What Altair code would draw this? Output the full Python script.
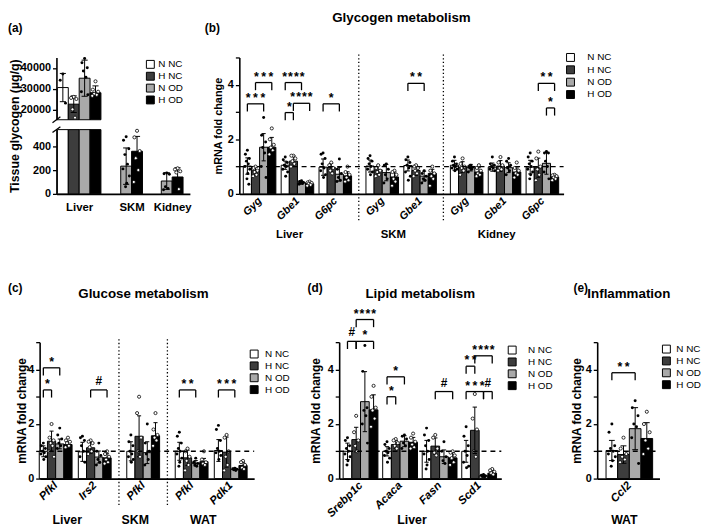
import altair as alt
import pandas as pd

FONT = "Liberation Sans"
GROUPS = ["N NC", "H NC", "N OD", "H OD"]
FILLS = ["#ffffff", "#3d3d3d", "#a9a9a9", "#000000"]
HOLLOW = {"N NC": False, "H NC": True, "N OD": False, "H OD": True}

# ---------------- (a) tissue glycogen ----------------
a_tissues = ["Liver", "SKM", "Kidney"]
a_bar_groups = [["N NC", "H NC", "N OD", "H OD"], ["N OD", "H OD"], ["N OD", "H OD"]]
a_means = [[30500, 22500, 35000, 28000], [233, 358], [108, 142]]
a_sds = [[6800, 4000, 8700, 3300], [153, 125], [70, 77]]
a_points = [
    [[37000, 34000, 23000], [26000, 25500, 25000, 20000, 16000],
     [44500, 42500, 40000, 38500, 35500, 28500, 27000], [33500, 29500, 28500, 27500, 27000, 26500]],
    [[480, 450, 380, 330, 250, 210, 150, 90, 60], [530, 475, 360, 300, 200, 100]],
    [[175, 170, 165, 60, 45, 35], [215, 205, 190, 180, 40]],
]

# ---------------- (b) glycogen metabolism ----------------
b_genes = ["Gyg", "Gbe1", "G6pc", "Gyg", "Gbe1", "Gyg", "Gbe1", "G6pc"]
b_tissues = ["Liver", "Liver", "Liver", "SKM", "SKM", "Kidney", "Kidney", "Kidney"]
b_means = [[1.02, 0.85, 1.71, 1.71], [1.05, 1.20, 0.41, 0.37], [0.98, 0.97, 0.72, 0.66],
           [1.02, 0.88, 0.78, 0.62], [1.04, 0.86, 0.65, 0.75],
           [1.05, 0.98, 0.96, 0.80], [0.98, 1.02, 0.96, 0.80], [0.98, 0.96, 1.12, 0.62]]
b_sds = [[0.30, 0.12, 0.50, 0.36], [0.15, 0.20, 0.05, 0.05], [0.30, 0.15, 0.25, 0.15],
         [0.22, 0.15, 0.30, 0.18], [0.20, 0.18, 0.18, 0.15],
         [0.18, 0.20, 0.12, 0.18], [0.15, 0.20, 0.18, 0.15], [0.25, 0.35, 0.40, 0.06]]
b_points = [
    [[1.6, 1.45, 1.3, 1.2, 1.1, 1.0, 0.9, 0.75, 0.55, 0.35], [1.0, 0.95, 0.85, 0.8, 0.7, 0.65],
     [2.8, 2.15, 1.9, 1.7, 1.5, 1.0, 0.6], [2.4, 2.0, 1.8, 1.7, 1.6, 1.45]],
    [[1.35, 1.25, 1.15, 1.05, 1.0, 0.9, 0.8, 0.65], [1.4, 1.4, 1.3, 1.2, 1.1, 1.0],
     [0.48, 0.45, 0.42, 0.4, 0.38, 0.35], [0.45, 0.42, 0.4, 0.37, 0.33, 0.3]],
    [[1.5, 1.45, 1.3, 1.1, 0.95, 0.85, 0.7, 0.6], [1.15, 1.05, 0.95, 0.85, 0.75],
     [1.28, 0.9, 0.75, 0.6, 0.5, 0.45], [1.0, 0.8, 0.7, 0.6, 0.5, 0.45]],
    [[1.4, 1.3, 1.2, 1.1, 1.0, 0.9, 0.8, 0.7], [1.05, 0.95, 0.85, 0.8, 0.7, 0.65],
     [1.1, 1.05, 0.9, 0.7, 0.55, 0.4], [0.85, 0.8, 0.7, 0.55, 0.45, 0.3]],
    [[1.35, 1.25, 1.15, 1.05, 0.95, 0.8, 0.65, 0.5], [1.05, 1.0, 0.95, 0.85, 0.75, 0.65],
     [0.85, 0.75, 0.65, 0.55, 0.5, 0.4], [1.0, 0.85, 0.75, 0.65, 0.55, 0.3]],
    [[1.35, 1.2, 1.1, 1.05, 1.0, 0.95, 0.9, 0.85], [1.3, 1.1, 1.0, 0.95, 0.85, 0.7],
     [1.05, 1.0, 0.98, 0.95, 0.9, 0.8], [1.05, 0.95, 0.85, 0.75, 0.7, 0.65]],
    [[1.35, 1.1, 1.05, 1.0, 0.95, 0.9, 0.85], [1.35, 1.15, 1.05, 0.95, 0.9, 0.85],
     [1.3, 1.2, 1.05, 0.95, 0.85, 0.7], [1.15, 0.95, 0.85, 0.75, 0.7, 0.6]],
    [[1.5, 1.35, 1.2, 1.1, 1.0, 0.9, 0.8, 0.7, 0.55], [1.55, 1.3, 1.0, 0.9, 0.7, 0.5],
     [1.55, 1.5, 1.5, 1.2, 1.0, 0.8, 0.55], [0.7, 0.68, 0.65, 0.6, 0.55, 0.5]],
]
# (gene index, group a, group b, bracket level, label)
b_brackets = [(0, 0, 2, 3.3, "***"), (0, 1, 3, 4.08, "***"), (1, 0, 2, 4.08, "****"),
              (1, 1, 3, 3.32, "****"), (1, 0, 1, 2.98, "*"), (2, 0, 2, 3.3, "*"),
              (4, 0, 2, 4.05, "**"), (7, 1, 3, 4.05, "**"), (7, 2, 3, 3.15, "*")]

# ---------------- (c) glucose metabolism ----------------
c_genes = ["Pfkl", "Irs2", "Pfkl", "Pfkl", "Pdk1"]
c_tissues = ["Liver", "Liver", "SKM", "WAT", "WAT"]
c_means = [[1.0, 1.37, 1.27, 1.25], [0.98, 1.13, 0.79, 0.76], [1.0, 1.55, 0.95, 1.57],
           [1.0, 0.76, 0.56, 0.62], [1.03, 0.97, 0.34, 0.48]]
c_sds = [[0.2, 0.37, 0.18, 0.12], [0.35, 0.2, 0.22, 0.15], [0.35, 0.75, 0.4, 0.48],
         [0.33, 0.28, 0.1, 0.12], [0.4, 0.55, 0.04, 0.12]]
c_points = [
    [[1.3, 1.2, 1.1, 1.0, 0.95, 0.9, 0.8, 0.7], [2.0, 1.5, 1.4, 1.3, 1.2, 1.0, 0.8],
     [1.85, 1.6, 1.45, 1.3, 1.2, 1.1], [1.5, 1.4, 1.35, 1.3, 1.2, 1.15]],
    [[1.55, 1.5, 1.4, 1.2, 1.0, 0.8, 0.6], [1.4, 1.35, 1.3, 1.15, 1.0, 0.9],
     [1.3, 1.0, 0.85, 0.7, 0.6, 0.5], [1.0, 0.9, 0.8, 0.7, 0.6, 0.55]],
    [[1.6, 1.35, 1.2, 1.0, 0.9, 0.8, 0.7, 0.6], [3.0, 2.4, 1.5, 1.0, 0.8],
     [2.0, 1.3, 1.0, 0.9, 0.7, 0.5], [2.4, 1.8, 1.6, 1.5, 1.4, 1.2]],
    [[1.7, 1.55, 1.3, 1.1, 1.0, 0.9, 0.75, 0.6, 0.45], [1.1, 1.0, 0.8, 0.65, 0.5, 0.3],
     [0.75, 0.6, 0.55, 0.5, 0.45], [1.0, 0.7, 0.6, 0.55, 0.5]],
    [[1.95, 1.8, 1.4, 1.1, 1.0, 0.95, 0.85, 0.7], [1.6, 1.5, 1.0, 0.8, 0.5, 0.3],
     [0.38, 0.36, 0.34, 0.32, 0.3], [0.65, 0.6, 0.5, 0.4, 0.35]],
]
c_brackets = [(0, 0, 1, 3.25, "*"), (0, 0, 2, 4.06, "*"), (1, 1, 3, 3.25, "#"),
              (3, 0, 2, 3.25, "**"), (4, 0, 2, 3.25, "***")]

# ---------------- (d) lipid metabolism ----------------
d_genes = ["Srebp1c", "Acaca", "Fasn", "Scd1"]
d_tissues = ["Liver", "Liver", "Liver", "Liver"]
d_means = [[1.0, 1.43, 2.82, 2.52], [1.0, 1.25, 1.37, 1.33], [1.0, 1.19, 0.8, 0.76], [1.0, 1.77, 0.1, 0.2]]
d_sds = [[0.3, 0.45, 1.1, 0.55], [0.17, 0.15, 0.2, 0.18], [0.4, 0.3, 0.25, 0.2], [0.4, 0.85, 0.04, 0.1]]
d_points = [
    [[1.5, 1.4, 1.2, 1.1, 1.0, 0.9, 0.8, 0.65, 0.5], [2.3, 1.7, 1.4, 1.2, 1.0],
     [4.88, 3.93, 2.6, 2.5, 2.3, 2.0, 1.3], [3.4, 3.0, 2.6, 2.5, 2.2, 1.9]],
    [[1.35, 1.25, 1.1, 1.0, 0.95, 0.85, 0.75, 0.6], [1.45, 1.4, 1.3, 1.2, 1.1],
     [1.6, 1.55, 1.45, 1.3, 1.2, 1.1], [1.65, 1.5, 1.35, 1.25, 1.15, 1.1]],
    [[1.85, 1.6, 1.4, 1.2, 1.0, 0.9, 0.7, 0.5, 0.35], [1.6, 1.5, 1.1, 0.95, 0.85],
     [1.35, 1.0, 0.8, 0.65, 0.55], [1.0, 0.95, 0.85, 0.75, 0.6, 0.5]],
    [[1.9, 1.55, 1.2, 1.0, 0.85, 0.6, 0.45, 0.4], [3.1, 2.2, 1.8, 1.0, 0.8],
     [0.15, 0.12, 0.1, 0.08, 0.06], [0.35, 0.3, 0.25, 0.2, 0.15]],
]
d_brackets = [(0, 0, 1, 5.03, "#"), (0, 1, 3, 5.03, "*"), (0, 1, 3, 5.83, "****"),
              (1, 0, 2, 3.73, "*"), (1, 0, 1, 3.0, "*"), (2, 1, 3, 3.19, "#"),
              (3, 0, 1, 4.12, "**"), (3, 1, 3, 4.5, "****"), (3, 0, 2, 3.19, "***"),
              (3, 2, 3, 3.19, "#")]

# ---------------- (e) inflammation ----------------
e_genes = ["Ccl2"]
e_tissues = ["WAT"]
e_means = [[1.03, 0.88, 1.83, 1.47]]
e_sds = [[0.37, 0.32, 0.77, 0.58]]
e_points = [[[2.0, 1.7, 1.2, 1.1, 1.0, 0.9, 0.8, 0.65, 0.45], [1.5, 1.1, 0.9, 0.8, 0.7, 0.6],
             [2.85, 2.6, 2.3, 2.0, 1.9, 1.5, 0.55], [2.45, 2.0, 1.7, 1.4, 1.1, 0.9]]]
e_brackets = [(0, 0, 2, 3.88, "**")]

# ======================= layout & styling =======================
W, H = 701, 524
CSCALE = alt.Scale(domain=GROUPS, range=FILLS)
AX = dict(grid=False, domainColor="black", domainWidth=1.6, tickColor="black", tickWidth=1.3,
          tickSize=4, labelFont=FONT, labelFontWeight="bold", labelFontSize=11, labelColor="black",
          labelPadding=2, titleFont=FONT, titleFontWeight="bold", titleColor="black")


def P(v):
    return v - 8


def jit(i):
    pat = [0.0, -0.27, 0.27, -0.13, 0.13, -0.33, 0.33, 0.06, -0.06, 0.2, -0.2]
    return pat[i % len(pat)]


def spaced(lab):
    # thin spacing between asterisks, tighter for four of them
    return ("\u200a" if len(lab) >= 4 else "\u2009").join(lab)


def build(pos, group_lists, means, sds, points, bw):
    bars, pts = [], []
    for k, gl in enumerate(group_lists):
        n = len(gl)
        for j, g in enumerate(gl):
            xc = pos[k] + (j - (n - 1) / 2) * bw
            m, s = means[k][j], sds[k][j]
            bars.append({"xc": xc, "x1": xc - bw / 2, "x2": xc + bw / 2, "mean": m, "base": 0,
                         "lo": max(m - s, 0), "hi": m + s, "group": g, "slot": k})
            for i, v in enumerate(points[k][j]):
                pts.append({"x": xc + jit(i) * bw * 0.9, "y": v, "hollow": HOLLOW[g], "slot": k})
    return pd.DataFrame(bars), pd.DataFrame(pts)


def legend(lx, ly, off, rp):
    return alt.Legend(title=None, orient="none", legendX=lx, legendY=ly, symbolType="square",
                      symbolSize=64, symbolStrokeColor="black", symbolStrokeWidth=1,
                      labelFont=FONT, labelFontSize=10, labelColor="black", labelOffset=off,
                      rowPadding=rp, padding=0)


def data_layers(bars_draw, bars_err, pts, xs, ys, xaxis, yaxis, leg, capw):
    def X(f, axis=None):
        return alt.X(f, type="quantitative", scale=xs, axis=axis)

    def Y(f, axis=None):
        return alt.Y(f, type="quantitative", scale=ys, axis=axis)

    lay = [alt.Chart(bars_draw).mark_rect(stroke="black", strokeWidth=1).encode(
        x=X("x1", xaxis), x2="x2:Q", y=Y("mean", yaxis), y2="base:Q",
        color=alt.Color("group:N", scale=CSCALE, legend=leg))]
    lay.append(alt.Chart(bars_err).mark_rule(color="black", strokeWidth=1).encode(
        x=X("xc"), y=Y("lo"), y2="hi:Q"))
    caps = pd.DataFrame({"ca": list(bars_err["xc"] - capw) * 2, "cb": list(bars_err["xc"] + capw) * 2,
                         "v": list(bars_err["hi"]) + list(bars_err["lo"])})
    lay.append(alt.Chart(caps).mark_rule(color="black", strokeWidth=1).encode(
        x=X("ca"), x2="cb:Q", y=Y("v")))
    filled = pts[~pts["hollow"]].drop(columns=["hollow"])
    hollow = pts[pts["hollow"]].drop(columns=["hollow"])
    lay.append(alt.Chart(filled).mark_circle(size=9, color="black", opacity=1).encode(
        x=X("x"), y=Y("y")))
    lay.append(alt.Chart(hollow).mark_circle(size=10, fill="white", stroke="black", strokeWidth=0.8,
                                             opacity=1).encode(x=X("x"), y=Y("y")))
    return lay


def text_at(t, x, y, size, align="left", baseline="middle"):
    return alt.Chart(pd.DataFrame({"t": [t]})).mark_text(
        font=FONT, fontWeight="bold", fontSize=size, align=align, baseline=baseline, color="black"
    ).encode(x=alt.value(x), y=alt.value(y), text="t:N")


def mrna_panel(genes, tissues, means, sds, points, brackets, pos, seps, xdom, xr, yr, bw,
               legend_xy, lab_off, row_pad, ytitle_x, ytitle_size, gene_size, tissue_size, tissue_dx):
    xs = alt.Scale(domain=xdom, range=xr, nice=False, zero=False)
    ys = alt.Scale(domain=[0, 5], range=yr, nice=False, zero=False)
    bars, pts = build(pos, [GROUPS] * len(genes), means, sds, points, bw)
    expr = " : ".join(f"abs(datum.value - {p}) < 0.01 ? '{g}'" for p, g in zip(pos, genes)) + " : ''"
    xaxis = alt.Axis(orient="bottom", offset=yr[0] - H, values=pos, labelExpr=expr, labelAngle=-45,
                     labelAlign="right", labelBaseline="middle", ticks=False,
                     labelOverlap=False, labelFlush=False, labelBound=False, labelFontStyle="italic",
                     title=None, **{**AX, "labelFontSize": gene_size, "labelPadding": 5, "tickSize": 0})
    yaxis = alt.Axis(orient="left", offset=-xr[0], values=[0, 1, 2, 3, 4, 5],
                     labelExpr="datum.value % 2 == 0 ? datum.label : ''",
                     title="mRNA fold change", titleX=ytitle_x, titleY=(yr[0] + yr[1]) / 2,
                     titleBaseline="middle", titleFontSize=ytitle_size, labelFlush=False, **AX)
    lay = data_layers(bars, bars, pts, xs, ys, xaxis, yaxis,
                      legend(legend_xy[0], legend_xy[1], lab_off, row_pad), bw * 0.25)

    def X(f):
        return alt.X(f, type="quantitative", scale=xs, axis=None)

    def Y(f):
        return alt.Y(f, type="quantitative", scale=ys, axis=None)

    lay.append(alt.Chart(pd.DataFrame({"a": [xdom[0]], "b": [xdom[1]], "v": [1]})).mark_rule(
        color="black", strokeDash=[5, 4], strokeWidth=1.4).encode(x=X("a"), x2="b:Q", y=Y("v")))
    if seps:
        lay.append(alt.Chart(pd.DataFrame({"s": seps})).mark_rule(
            color="black", strokeDash=[1.3, 2.4], strokeWidth=1.3).encode(
            x=X("s"), y=alt.value(yr[1] - 3), y2=alt.value(yr[0] + 28)))
    br, legs, stars, hashes = [], [], [], []
    for (k, g1, g2, lvl, lab) in brackets:
        xa = pos[k] + (g1 - 1.5) * bw
        xb = pos[k] + (g2 - 1.5) * bw
        br.append({"xa": xa, "xb": xb, "y": lvl})
        legs += [{"x": xa, "y": lvl, "yl": lvl - 0.28}, {"x": xb, "y": lvl, "yl": lvl - 0.28}]
        rec = {"xm": (xa + xb) / 2, "y": lvl, "t": spaced(lab)}
        (hashes if lab == "#" else stars).append(rec)
    lay.append(alt.Chart(pd.DataFrame(br)).mark_rule(color="black", strokeWidth=1.3).encode(
        x=X("xa"), x2="xb:Q", y=Y("y")))
    lay.append(alt.Chart(pd.DataFrame(legs)).mark_rule(color="black", strokeWidth=1.3).encode(
        x=X("x"), y=Y("yl"), y2="y:Q"))
    if stars:
        lay.append(alt.Chart(pd.DataFrame(stars)).mark_text(
            font=FONT, fontWeight="bold", fontSize=12.5, baseline="alphabetic", dy=-2, color="black").encode(
            x=X("xm"), y=Y("y"), text="t:N"))
    if hashes:
        lay.append(alt.Chart(pd.DataFrame(hashes)).mark_text(
            font=FONT, fontWeight="bold", fontSize=12, baseline="alphabetic", dy=-5, color="black").encode(
            x=X("xm"), y=Y("y"), text="t:N"))
    tis = []
    for t in dict.fromkeys(tissues):
        ps = [p for p, tt in zip(pos, tissues) if tt == t]
        tis.append({"xm": sum(ps) / len(ps), "t": t})
    lay.append(alt.Chart(pd.DataFrame(tis)).mark_text(
        font=FONT, fontWeight="bold", fontSize=tissue_size, dx=tissue_dx, baseline="middle",
        color="black").encode(x=X("xm"), y=alt.value(yr[0] + 42), text="t:N"))
    return lay


def slash(x0, y0, x1, y1):
    return alt.Chart(pd.DataFrame({"k": [0]})).mark_rule(color="black", strokeWidth=1.3).encode(
        x=alt.value(x0), y=alt.value(y0), x2=alt.value(x1), y2=alt.value(y1))


layers = []

# ---------------- panel (a) ----------------
a_pos = [0.0, 4.82, 8.55]
a_xs = alt.Scale(domain=[-2.09, 10.18], range=[P(57), P(192)], nice=False, zero=False)
ys_top = alt.Scale(domain=[15000, 45000], range=[P(118), P(55)], nice=False, zero=False, clamp=True)
ys_bot = alt.Scale(domain=[0, 540], range=[P(193), P(128)], nice=False, zero=False, clamp=True)
a_bars, a_pts = build(a_pos, a_bar_groups, a_means, a_sds, a_points, 1.0)
a_expr = " : ".join(f"abs(datum.value - {p}) < 0.01 ? '{t}'" for p, t in zip(a_pos, a_tissues)) + " : ''"

top_yaxis = alt.Axis(orient="left", offset=-P(57), values=[20000, 30000, 40000], format="d",
                     title=None, labelFlush=False, **AX)
bot_yaxis = alt.Axis(orient="left", offset=-P(57), values=[0, 200, 400], format="d",
                     title="Tissue glycogen (µg/g)", titleX=-42, titleY=P(124), titleBaseline="middle",
                     titleFontSize=12.5, labelFlush=False, **AX)
a_xaxis = alt.Axis(orient="bottom", offset=P(193) - H, values=a_pos, labelExpr=a_expr, ticks=False,
                   labelFlush=False, labelOverlap=False, title=None,
                   **{**AX, "labelPadding": 8, "labelFontSize": 11.5, "tickSize": 0})

liver = a_bars[a_bars["slot"] == 0]
others = a_bars[a_bars["slot"] > 0]
layers += data_layers(liver, liver, a_pts[a_pts["slot"] == 0], a_xs, ys_top, None, top_yaxis,
                      legend(P(147), P(57), 3, 0), 0.28)
layers += data_layers(a_bars, others, a_pts[a_pts["slot"] > 0], a_xs, ys_bot, a_xaxis, bot_yaxis,
                      None, 0.28)
layers.append(slash(P(53), P(121), P(61), P(115)))
layers.append(slash(P(53), P(131), P(61), P(125)))
layers.append(text_at("(a)", P(8), P(25), 12))

# ---------------- panels (b)-(e) ----------------
layers += mrna_panel(b_genes, b_tissues, b_means, b_sds, b_points, b_brackets,
                     [0, 1, 2, 3.24, 4.24, 5.47, 6.47, 7.47], [2.62, 4.855], [-0.535, 8.03],
                     [P(242), P(570)], [P(193), P(55)], 0.215,
                     (P(572), P(50)), 12, 0.5, -21, 11, 11, 11.5, -8)
layers += mrna_panel(c_genes, c_tissues, c_means, c_sds, c_points, c_brackets,
                     [0, 1, 2.24, 3.48, 4.48], [1.62, 2.86], [-0.41, 5.08],
                     [P(40), P(257)], [P(481), P(343)], 0.21,
                     (P(252), P(350)), 6, 0, -18, 12, 11.5, 12.5, -8)
layers += mrna_panel(d_genes, d_tissues, d_means, d_sds, d_points, d_brackets,
                     [0, 1, 2, 3], [], [-0.54, 3.56],
                     [P(343), P(507)], [P(481), P(343)], 0.22,
                     (P(513), P(346)), 11, 0, -24, 12, 11.5, 12.5, -8)
layers += mrna_panel(e_genes, e_tissues, e_means, e_sds, e_points, e_brackets,
                     [0], [], [-0.516, 0.484],
                     [P(604), P(667)], [P(481), P(343)], 0.187,
                     (P(669), P(345)), 5, 0, -21, 12, 11.5, 12.5, -5)

# panel letters and headings
layers.append(text_at("(b)", P(207), P(25), 12))
layers.append(text_at("Glycogen metabolism", P(406), 0, 13.5, align="center", baseline="top"))
layers.append(text_at("(c)", P(8), P(288), 12))
layers.append(text_at("Glucose metabolism", P(145), P(294), 13.5, align="center"))
layers.append(text_at("(d)", P(311), P(288), 12))
layers.append(text_at("Lipid metabolism", P(425), P(294), 13.5, align="center"))
layers.append(text_at("(e)", P(580), P(288), 12))
layers.append(text_at("Inflammation", P(636), P(294), 13.5, align="center"))

chart = alt.layer(*layers).resolve_scale(
    x="independent", y="independent", color="independent"
).properties(width=W, height=H, padding=0).configure_view(stroke=None)

chart.save("out.html", embed_options={"renderer": "svg", "actions": False})
